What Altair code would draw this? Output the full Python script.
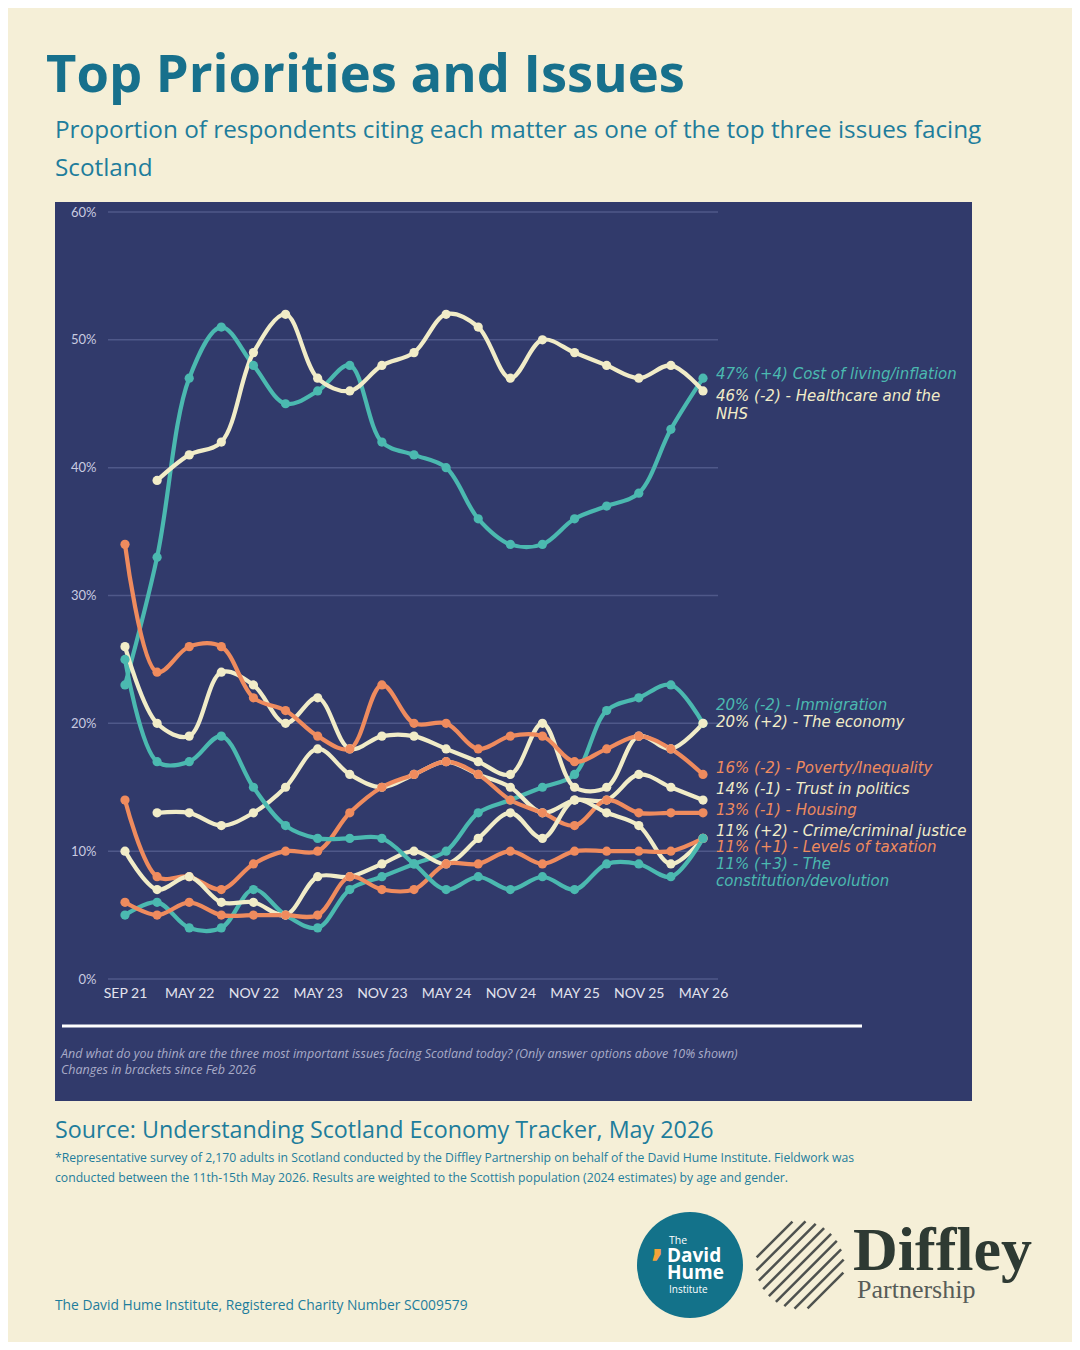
import altair as alt
import pandas as pd
import numpy as np

# ---------------- data ----------------
waves = ["Sep 21", "Feb 22", "May 22", "Aug 22", "Nov 22", "Feb 23", "May 23", "Aug 23",
         "Nov 23", "Feb 24", "May 24", "Aug 24", "Nov 24", "Feb 25", "May 25", "Aug 25",
         "Nov 25", "Feb 26", "May 26"]
tick_labels = ["SEP 21", "MAY 22", "NOV 22", "MAY 23", "NOV 23", "MAY 24", "NOV 24",
               "MAY 25", "NOV 25", "MAY 26"]

cost_of_living = [23, 33, 47, 51, 48, 45, 46, 48, 42, 41, 40, 36, 34, 34, 36, 37, 38, 43, 47]
healthcare = [None, 39, 41, 42, 49, 52, 47, 46, 48, 49, 52, 51, 47, 50, 49, 48, 47, 48, 46]
immigration = [5, 6, 4, 4, 7, 5, 4, 7, 8, 9, 10, 13, 14, 15, 16, 21, 22, 23, 20]
economy = [26, 20, 19, 24, 23, 20, 22, 18, 19, 19, 18, 17, 16, 20, 15, 15, 19, 18, 20]
poverty = [34, 24, 26, 26, 22, 21, 19, 18, 23, 20, 20, 18, 19, 19, 17, 18, 19, 18, 16]
trust = [None, 13, 13, 12, 13, 15, 18, 16, 15, 16, 17, 16, 15, 13, 14, 14, 16, 15, 14]
housing = [14, 8, 8, 7, 9, 10, 10, 13, 15, 16, 17, 16, 14, 13, 12, 14, 13, 13, 13]
crime = [10, 7, 8, 6, 6, 5, 8, 8, 9, 10, 9, 11, 13, 11, 14, 13, 12, 9, 11]
taxation = [6, 5, 6, 5, 5, 5, 5, 8, 7, 7, 9, 9, 10, 9, 10, 10, 10, 10, 11]
constitution = [25, 17, 17, 19, 15, 12, 11, 11, 11, 9, 7, 8, 7, 8, 7, 9, 9, 8, 11]

series_names = ["Cost of living/inflation", "Healthcare and the NHS", "Immigration",
                "The economy", "Poverty/Inequality", "Trust in politics", "Housing",
                "Crime/criminal justice", "Levels of taxation", "The constitution/devolution"]
series_values = [cost_of_living, healthcare, immigration, economy, poverty, trust,
                 housing, crime, taxation, constitution]

end_labels = [
    ("47% (+4) Cost of living/inflation", "teal"),
    ("46% (-2) - Healthcare and the", "cream"),
    ("NHS", "cream"),
    ("20% (-2) - Immigration", "teal"),
    ("20% (+2) - The economy", "cream"),
    ("16% (-2) - Poverty/Inequality", "orange"),
    ("14% (-1) - Trust in politics", "cream"),
    ("13% (-1) - Housing", "orange"),
    ("11% (+2) - Crime/criminal justice", "cream"),
    ("11% (+1) - Levels of taxation", "orange"),
    ("11% (+3) - The", "teal"),
    ("constitution/devolution", "teal"),
]
end_label_y = [374, 396, 414, 705, 722, 768, 789, 810, 831, 847, 864, 881]

# ---------------- styling ----------------
TEAL = "#4BB9B0"
CREAM = "#F1ECC8"
ORANGE = "#EF8B5E"
PAL = {"teal": TEAL, "cream": CREAM, "orange": ORANGE}
series_colors = [TEAL, CREAM, TEAL, CREAM, ORANGE, CREAM, ORANGE, CREAM, ORANGE, TEAL]

PAGE_BG = "#F5EFD7"
PANEL = "#313A6B"
TITLE_C = "#17708C"
SUB_C = "#1E7D9C"

rows = []
for name, vals in zip(series_names, series_values):
    for i, v in enumerate(vals):
        if v is not None:
            rows.append({"series": name, "wave": i, "label": waves[i], "value": v})
df = pd.DataFrame(rows)

# plot area in page coordinates
X0, Y0 = 108, 212
PW, PH = 610, 767


def px(X):
    return X - X0


def py(Y):
    return Y - Y0


label_expr = "[" + ",".join("'%s'" % t for t in tick_labels) + "][round(datum.value / 2)]"

xscale = alt.Scale(domain=[-0.529, 18.467], nice=False, zero=False)
yscale = alt.Scale(domain=[0, 60], nice=False)
xaxis = alt.Axis(values=list(range(0, 19, 2)), labelExpr=label_expr, grid=False, domain=False,
                 ticks=False, labelFont="Lato", labelFontSize=14, labelColor="#E3E3EE",
                 labelPadding=7, labelOverlap=False, labelFlush=False, title=None, zindex=1)
yaxis = alt.Axis(values=list(range(0, 61, 10)), labelExpr="datum.value + '%'", grid=False,
                 domain=False, ticks=False, labelFont="Lato", labelFontSize=13,
                 labelColor="#C9CBE0", labelPadding=12, title=None, zindex=1)

one = pd.DataFrame({"a": [0]})


def txt(s, X, Y, size, color, font="Open Sans", weight="normal", style="normal",
        align="left", baseline="alphabetic"):
    return alt.Chart(pd.DataFrame({"t": [s]})).mark_text(
        align=align, baseline=baseline, font=font, fontSize=size, fontWeight=weight,
        fontStyle=style, color=color
    ).encode(x=alt.value(px(X)), y=alt.value(py(Y)), text="t:N")


layers = []

# dark panel
layers.append(alt.Chart(one).mark_rect(color=PANEL).encode(
    x=alt.value(px(55)), x2=alt.value(px(972)), y=alt.value(py(202)), y2=alt.value(py(1101))))

# gridlines
grid_df = pd.DataFrame({"value": list(range(0, 61, 10))})
layers.append(alt.Chart(grid_df).mark_rule(color="#4F5889", strokeWidth=1.5).encode(
    y=alt.Y("value:Q", scale=yscale, axis=yaxis), x=alt.value(0), x2=alt.value(PW)))

enc = dict(
    x=alt.X("wave:Q", scale=xscale, axis=xaxis),
    y=alt.Y("value:Q", scale=yscale, axis=yaxis),
    color=alt.Color("series:N", scale=alt.Scale(domain=series_names, range=series_colors),
                    legend=None),
)
layers.append(alt.Chart(df).mark_line(interpolate="catmull-rom", strokeWidth=4.2).encode(**enc))
layers.append(alt.Chart(df).mark_circle(size=85, opacity=1).encode(**enc))

# end labels
for (t, c), yy in zip(end_labels, end_label_y):
    layers.append(txt(t, 716, yy, 15, PAL[c], font="DejaVu Sans", style="italic",
                      baseline="middle"))

# white rule and notes
layers.append(alt.Chart(one).mark_rule(color="#FFFFFF", strokeWidth=3).encode(
    x=alt.value(px(62)), x2=alt.value(px(862)), y=alt.value(py(1026))))
layers.append(txt("And what do you think are the three most important issues facing Scotland today? "
                  "(Only answer options above 10% shown)", 61, 1058, 12.5, "#A9ACC8",
                  font="Open Sans", style="italic"))
layers.append(txt("Changes in brackets since Feb 2026", 61, 1074, 12.5, "#A9ACC8",
                  font="Open Sans", style="italic"))

# titles
layers.append(txt("Top Priorities and Issues", 46, 92, 52.5, TITLE_C, weight="bold"))
layers.append(txt("Proportion of respondents citing each matter as one of the top three issues facing",
                  55, 138, 24.3, SUB_C))
layers.append(txt("Scotland", 55, 176, 24.3, SUB_C))

# source & footnotes
layers.append(txt("Source: Understanding Scotland Economy Tracker, May 2026", 55, 1138, 23.3, SUB_C))
layers.append(txt("*Representative survey of 2,170 adults in Scotland conducted by the Diffley Partnership "
                  "on behalf of the David Hume Institute. Fieldwork was", 55, 1162, 12.2, SUB_C))
layers.append(txt("conducted between the 11th-15th May 2026. Results are weighted to the Scottish "
                  "population (2024 estimates) by age and gender.", 55, 1182, 12.2, SUB_C))
layers.append(txt("The David Hume Institute, Registered Charity Number SC009579", 55, 1310, 13.8, SUB_C))

# David Hume Institute logo
layers.append(alt.Chart(one).mark_circle(size=4 * 53 * 53, color="#13728A", opacity=1).encode(
    x=alt.value(px(690)), y=alt.value(py(1265))))
layers.append(txt("\u2019", 650, 1276, 38, "#F2A33A", font="DejaVu Sans", weight="bold"))
layers.append(txt("The", 669, 1244, 10.5, "#FFFFFF"))
layers.append(txt("David", 667, 1262, 19, "#FFFFFF", weight="bold"))
layers.append(txt("Hume", 667, 1279, 19, "#FFFFFF", weight="bold"))
layers.append(txt("Institute", 669, 1293, 10, "#FFFFFF"))

# Diffley stripes icon
cx, cy, R = 800, 1265, 44
for d in np.arange(-36, 37, 9):
    L = np.sqrt(max(R * R - d * d, 0))
    ux, uy = 1 / np.sqrt(2), -1 / np.sqrt(2)
    nx, ny = 1 / np.sqrt(2), 1 / np.sqrt(2)
    ax, ay = cx + d * nx - L * ux, cy + d * ny - L * uy
    bx, by = cx + d * nx + L * ux, cy + d * ny + L * uy
    layers.append(alt.Chart(one).mark_rule(color="#4E524F", strokeWidth=2.5).encode(
        x=alt.value(float(px(ax))), x2=alt.value(float(px(bx))),
        y=alt.value(float(py(ay))), y2=alt.value(float(py(by)))))
layers.append(txt("Diffley", 853, 1270, 62, "#2E3A33", font="Liberation Serif", weight="bold"))
layers.append(txt("Partnership", 857, 1298, 26, "#575C58", font="Liberation Serif"))

chart = alt.layer(*layers).properties(
    width=PW, height=PH,
    padding={"left": X0 - 8, "top": Y0 - 8, "right": 1064 - (X0 - 8) - PW,
             "bottom": 1334 - (Y0 - 8) - PH},
    autosize=alt.AutoSizeParams(type="none"),
    background=PAGE_BG,
).configure_view(stroke=None)

chart.save("out.html", embed_options={"renderer": "svg", "actions": False})
